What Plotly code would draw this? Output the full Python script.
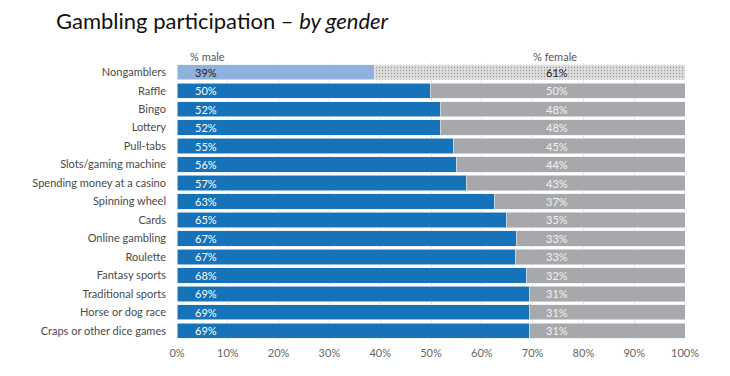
import plotly.graph_objects as go

categories = ["Nongamblers", "Raffle", "Bingo", "Lottery", "Pull-tabs", "Slots/gaming machine",
              "Spending money at a casino", "Spinning wheel", "Cards", "Online gambling", "Roulette",
              "Fantasy sports", "Traditional sports", "Horse or dog race", "Craps or other dice games"]
male = [38.8, 49.9, 51.8, 51.8, 54.5, 55.1, 56.9, 62.5, 64.8, 66.8, 66.6, 68.8, 69.4, 69.4, 69.4]
female = [round(100 - m, 1) for m in male]
male_labels = ["39%", "50%", "52%", "52%", "55%", "56%", "57%", "63%", "65%", "67%", "67%", "68%", "69%", "69%", "69%"]
female_labels = ["61%", "50%", "48%", "48%", "45%", "44%", "43%", "37%", "35%", "33%", "33%", "32%", "31%", "31%", "31%"]
x_ticks = [0, 10, 20, 30, 40, 50, 60, 70, 80, 90, 100]

FONT = "Lato"
male_colors = ["#8fb1dd"] + ["#1672b9"] * (len(categories) - 1)
female_colors = ["#dedede"] + ["#a7a8ab"] * (len(categories) - 1)
female_pattern = ["."] + [""] * (len(categories) - 1)

fig = go.Figure()
fig.add_trace(go.Bar(
    y=categories, x=male, orientation="h", name="% male",
    marker=dict(color=male_colors, line=dict(color="#e8eef6", width=0.6)),
    hoverinfo="skip"))
fig.add_trace(go.Bar(
    y=categories, x=female, orientation="h", name="% female",
    marker=dict(color=female_colors, line=dict(color="#ececec", width=0.6),
                pattern=dict(shape=female_pattern, fgcolor="#d0d0d0", bgcolor="#e0e0e0", size=3, solidity=0.15)),
    hoverinfo="skip"))

annotations = []
for i, c in enumerate(categories):
    dark = i == 0
    annotations.append(dict(x=3.2, y=c, xref="x", yref="y", text=male_labels[i], showarrow=False,
                            xanchor="left", yanchor="middle",
                            font=dict(family=FONT, size=11, color="#222222" if dark else "#ffffff")))
    annotations.append(dict(x=74.8, y=c, xref="x", yref="y", text=female_labels[i], showarrow=False,
                            xanchor="center", yanchor="middle",
                            font=dict(family=FONT, size=11, color="#222222" if dark else "#f2f2f2")))
annotations.append(dict(x=2.2, y=1.0, xref="x", yref="paper", text="% male", showarrow=False,
                        xanchor="left", yanchor="bottom", yshift=-2,
                        font=dict(family=FONT, size=11, color="#555555")))
annotations.append(dict(x=69.6, y=1.0, xref="x", yref="paper", text="% female", showarrow=False,
                        xanchor="left", yanchor="bottom", yshift=-2,
                        font=dict(family=FONT, size=11, color="#555555")))
# chart title
annotations.append(dict(x=-123 / 508, y=1.0, xref="paper", yref="paper", xanchor="left", yanchor="bottom",
                        yshift=27, showarrow=False,
                        text="Gambling participation – <i>by gender</i>",
                        font=dict(family=FONT, size=22, color="#111111")))

fig.update_layout(
    width=722, height=368,
    barmode="stack", bargap=0.17,
    showlegend=False,
    paper_bgcolor="white", plot_bgcolor="white",
    margin=dict(l=169, r=45, t=55, b=36),
    xaxis=dict(range=[0, 100], tickvals=x_ticks, ticktext=[f"{t}%" for t in x_ticks],
               showgrid=True, gridcolor="#e4e4e4", gridwidth=1, zeroline=False,
               showline=False, ticks="", ticklabelstandoff=5,
               tickfont=dict(family=FONT, size=11, color="#666666")),
    yaxis=dict(autorange="reversed", showgrid=False, ticks="", ticklen=0, ticklabelstandoff=10,
               tickfont=dict(family=FONT, size=11, color="#4a4a4a")),
    annotations=annotations,
    font=dict(family=FONT),
)

fig.write_html("out.html")
